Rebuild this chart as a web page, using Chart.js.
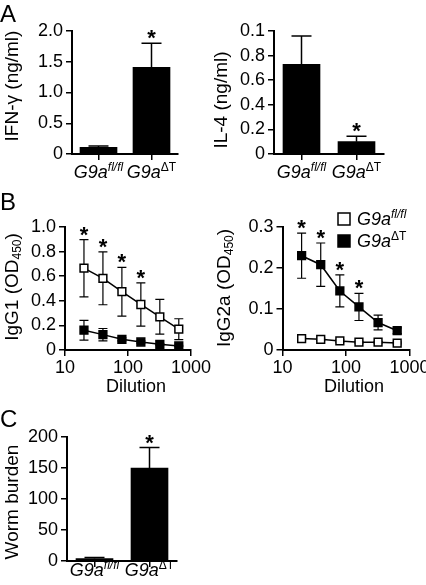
<!DOCTYPE html>
<html>
<head>
<meta charset="utf-8">
<script src="https://cdn.jsdelivr.net/npm/chart.js@4.4.0/dist/chart.umd.min.js"></script>
<style>
body { margin: 0; background: #fff; overflow: hidden; }
#wrap { position: relative; width: 426px; height: 585px; }
canvas { position: absolute; left: 0; top: 0; }
</style>
</head>
<body>
<div id="wrap">
  <canvas id="ifn" width="426" height="585"></canvas>
  <canvas id="il4" width="426" height="585"></canvas>
  <canvas id="igg1" width="426" height="585"></canvas>
  <canvas id="igg2a" width="426" height="585"></canvas>
  <canvas id="worm" width="426" height="585"></canvas>
</div>
<script>
const FONT = '"Liberation Sans", Arial, Helvetica, sans-serif';
const geno = 'G9a';
const genoSup = ['fl/fl', 'ΔT'];

// A - cytokines
const ifnMeans = [0.11, 1.41];
const ifnErr = [0.02, 0.39];
const ifnSig = [false, true];
const ifnTicks = [0, 0.5, 1, 1.5, 2];
const ifnTickLabels = ['0', '0.5', '1.0', '1.5', '2.0'];

const il4Means = [0.73, 0.10];
const il4Err = [0.23, 0.045];
const il4Sig = [false, true];
const il4Ticks = [0, 0.2, 0.4, 0.6, 0.8, 1];
const il4TickLabels = ['0', '0.2', '0.4', '0.6', '0.8', '0.1'];

// B - antibody titres
const dilutions = [20, 40, 80, 160, 320, 640];
const dilTicks = [10, 100, 1000];

const igg1Flox = [0.665, 0.583, 0.474, 0.37, 0.27, 0.169];
const igg1FloxErr = [0.233, 0.215, 0.198, 0.176, 0.141, 0.085];
const igg1Ko = [0.161, 0.125, 0.087, 0.065, 0.046, 0.033];
const igg1KoErr = [0.08, 0.05, 0.012, 0.009, 0.006, 0.004];
const igg1Sig = [true, true, true, true, false, false];
const igg1Ticks = [0, 0.2, 0.4, 0.6, 0.8, 1];
const igg1TickLabels = ['0', '0.2', '0.4', '0.6', '0.8', '1.0'];

const igg2aFlox = [0.028, 0.026, 0.022, 0.019, 0.019, 0.017];
const igg2aFloxErr = [0.004, 0.003, 0.003, 0.002, 0.002, 0.002];
const igg2aKo = [0.23, 0.208, 0.144, 0.105, 0.067, 0.047];
const igg2aKoErr = [0.055, 0.053, 0.039, 0.033, 0.018, 0.007];
const igg2aSig = [true, true, true, true, false, false];
const igg2aTicks = [0, 0.1, 0.2, 0.3];
const igg2aTickLabels = ['0', '0.1', '0.2', '0.3'];

// C - worms
const wormMeans = [4, 150];
const wormErr = [1.5, 33];
const wormSig = [false, true];
const wormTicks = [0, 50, 100, 150, 200];
const wormTickLabels = ['0', '50', '100', '150', '200'];

function drawRich(ctx, x, y, parts, align) {
  let w = 0;
  parts.forEach(p => { ctx.font = p.font; p.w = ctx.measureText(p.text).width; w += p.w; });
  let cx = align === 'left' ? x : x - w / 2;
  ctx.textAlign = 'left';
  parts.forEach(p => { ctx.font = p.font; ctx.fillText(p.text, cx, y + (p.dy || 0)); cx += p.w; });
}

function genoParts(sup) {
  return [
    { text: geno, font: 'italic 18px ' + FONT },
    { text: sup, font: (sup === 'fl/fl' ? 'italic ' : '') + '12px ' + FONT, dy: -7 }
  ];
}

function drawErr(chart, o) {
  const ctx = chart.ctx, y = chart.scales.y;
  ctx.save();
  ctx.strokeStyle = '#000';
  ctx.lineWidth = o.width;
  chart.data.datasets.forEach((ds, di) => {
    const meta = chart.getDatasetMeta(di);
    ds.means.forEach((v, i) => {
      const px = meta.data[i].x;
      const top = y.getPixelForValue(v + ds.errors[i]);
      const bot = y.getPixelForValue(o.both ? v - ds.errors[i] : v);
      ctx.beginPath();
      ctx.moveTo(px, bot); ctx.lineTo(px, top);
      ctx.moveTo(px - o.cap / 2, top); ctx.lineTo(px + o.cap / 2, top);
      if (o.both) { ctx.moveTo(px - o.cap / 2, bot); ctx.lineTo(px + o.cap / 2, bot); }
      ctx.stroke();
    });
  });
  ctx.restore();
}

function drawStars(chart, o) {
  const ctx = chart.ctx, y = chart.scales.y;
  ctx.save();
  ctx.fillStyle = '#000';
  ctx.font = 'bold 22px ' + FONT;
  ctx.textAlign = 'center';
  ctx.textBaseline = 'alphabetic';
  o.sig.forEach((s, i) => {
    if (!s) return;
    let top = Infinity;
    chart.data.datasets.forEach(ds => {
      top = Math.min(top, y.getPixelForValue(ds.means[i] + ds.errors[i]));
    });
    const px = chart.getDatasetMeta(0).data[i].x;
    ctx.fillText('*', px, top + 2);
  });
  ctx.restore();
}

const errorBars = {
  id: 'errorBars',
  beforeDatasetsDraw(chart, args, o) { if (o.under) drawErr(chart, o); },
  afterDatasetsDraw(chart, args, o) { if (!o.under) drawErr(chart, o); drawStars(chart, o); }
};

const decor = {
  id: 'decor',
  afterDraw(chart, args, o) {
    const ctx = chart.ctx;
    ctx.save();
    ctx.fillStyle = '#000';
    ctx.textBaseline = 'alphabetic';
    if (o.letter) {
      ctx.font = '24px ' + FONT;
      ctx.textAlign = 'left';
      ctx.fillText(o.letter[0], o.letter[1], o.letter[2]);
    }
    if (o.yTitle) {
      ctx.save();
      ctx.translate(o.yTitle.x, o.yTitle.y);
      ctx.rotate(-Math.PI / 2);
      ctx.textBaseline = 'middle';
      drawRich(ctx, 0, 0, o.yTitle.parts, 'center');
      ctx.restore();
    }
    if (o.catY) {
      const xs = chart.scales.x;
      genoSup.forEach((s, i) => drawRich(ctx, xs.getPixelForTick(i), o.catY, genoParts(s), 'center'));
    }
    if (o.xTitle) {
      ctx.font = '18px ' + FONT;
      ctx.textAlign = 'center';
      ctx.textBaseline = 'middle';
      ctx.fillText(o.xTitle.text, o.xTitle.x, o.xTitle.y);
      ctx.textBaseline = 'alphabetic';
    }
    if (o.legend) {
      const lg = o.legend;
      ctx.lineWidth = 1.5;
      ctx.strokeStyle = '#000';
      ctx.fillStyle = '#fff';
      ctx.fillRect(lg.x, lg.y, 12, 12);
      ctx.strokeRect(lg.x, lg.y, 12, 12);
      ctx.fillStyle = '#000';
      ctx.fillRect(lg.x - 0.75, lg.y + 22 - 0.75, 13.5, 13.5);
      drawRich(ctx, lg.x + 19, lg.y + 12, genoParts(genoSup[0]), 'left');
      drawRich(ctx, lg.x + 19, lg.y + 34, genoParts(genoSup[1]), 'left');
    }
    ctx.restore();
  }
};

function pad(L, T, R, B, yW, xH) {
  return { left: L - yW, top: T, right: 426 - R, bottom: 585 - B - xH };
}

function yAxis(ticks, labels, min, max) {
  return {
    min: min, max: max,
    afterBuildTicks: s => { s.ticks = ticks.map(v => ({ value: v })); },
    ticks: { color: '#000', font: { size: 18, family: FONT }, padding: 3, callback: (v, i) => labels[i] },
    grid: { drawOnChartArea: false, drawTicks: true, tickLength: 6, color: '#000', lineWidth: 1.5 },
    border: { color: '#000', width: 2 },
    afterFit: s => { s.width = 40; s.paddingTop = 0; s.paddingBottom = 0; }
  };
}

const catAxis = {
  ticks: { display: false },
  grid: { drawOnChartArea: false, drawTicks: true, tickLength: 6, color: '#000', lineWidth: 1.5, offset: false },
  border: { color: '#000', width: 2 },
  afterFit: s => { s.height = 8; s.paddingLeft = 0; s.paddingRight = 0; }
};

const logAxis = {
  type: 'logarithmic',
  min: 10, max: 1000,
  afterBuildTicks: s => { s.ticks = dilTicks.map(v => ({ value: v })); },
  ticks: { color: '#000', font: { size: 18, family: FONT }, padding: 1, autoSkip: false, maxRotation: 0,
           callback: v => String(v) },
  grid: { drawOnChartArea: false, drawTicks: true, tickLength: 6, color: '#000', lineWidth: 1.5 },
  border: { color: '#000', width: 2 },
  afterFit: s => { s.height = 28; s.paddingLeft = 0; s.paddingRight = 0; }
};

function barChart(id, means, errs, sig, ticks, labels, max, area, deco) {
  return new Chart(document.getElementById(id), {
    type: 'bar',
    data: {
      labels: genoSup,
      datasets: [{ data: means, means: means, errors: errs, backgroundColor: '#000', barThickness: 37 }]
    },
    options: {
      responsive: false, animation: false, events: [],
      layout: { padding: area },
      plugins: { legend: { display: false }, tooltip: { enabled: false },
                 errorBars: { under: false, both: false, cap: 20, width: 1.5, sig: sig },
                 decor: deco },
      scales: { x: catAxis, y: yAxis(ticks, labels, 0, max) }
    },
    plugins: [errorBars, decor]
  });
}

function lineSet(vals, errs, fill) {
  return {
    data: dilutions.map((d, i) => ({ x: d, y: vals[i] })),
    means: vals, errors: errs,
    borderColor: '#000', borderWidth: 1.5, tension: 0,
    pointStyle: 'rect', pointRadius: 5.5, pointBorderWidth: 1.5,
    pointBackgroundColor: fill, pointBorderColor: '#000'
  };
}

function lineChart(id, sets, sig, ticks, labels, max, area, deco) {
  return new Chart(document.getElementById(id), {
    type: 'line',
    data: { datasets: sets },
    options: {
      responsive: false, animation: false, events: [],
      layout: { padding: area },
      plugins: { legend: { display: false }, tooltip: { enabled: false },
                 errorBars: { under: true, both: true, cap: 9, width: 1.2, sig: sig },
                 decor: deco },
      scales: { x: logAxis, y: yAxis(ticks, labels, 0, max) }
    },
    plugins: [errorBars, decor]
  });
}

barChart('ifn', ifnMeans, ifnErr, ifnSig, ifnTicks, ifnTickLabels, 2, pad(72, 31, 178, 154, 40, 8), {
  letter: ['A', 0, 22], catY: 178,
  yTitle: { x: 13, y: 86, parts: [{ text: 'IFN-γ (ng/ml)', font: '19px ' + FONT }] }
});

barChart('il4', il4Means, il4Err, il4Sig, il4Ticks, il4TickLabels, 1, pad(274, 31, 384, 154, 40, 8), {
  catY: 178,
  yTitle: { x: 222, y: 100, parts: [{ text: 'IL-4 (ng/ml)', font: '19px ' + FONT }] }
});

lineChart('igg1', [lineSet(igg1Flox, igg1FloxErr, '#fff'), lineSet(igg1Ko, igg1KoErr, '#000')],
  igg1Sig, igg1Ticks, igg1TickLabels, 1, pad(65, 227, 191, 350, 40, 28), {
  letter: ['B', 0, 210],
  xTitle: { text: 'Dilution', x: 136, y: 387 },
  yTitle: { x: 13, y: 287, parts: [
    { text: 'IgG1 (OD', font: '19px ' + FONT },
    { text: '450', font: '12px ' + FONT, dy: 5 },
    { text: ')', font: '19px ' + FONT }] }
});

lineChart('igg2a', [lineSet(igg2aFlox, igg2aFloxErr, '#fff'), lineSet(igg2aKo, igg2aKoErr, '#000')],
  igg2aSig, igg2aTicks, igg2aTickLabels, 0.3, pad(282.5, 227, 409.5, 350, 40, 28), {
  xTitle: { text: 'Dilution', x: 354, y: 387 },
  legend: { x: 338, y: 213 },
  yTitle: { x: 225, y: 288, parts: [
    { text: 'IgG2a (OD', font: '19px ' + FONT },
    { text: '450', font: '12px ' + FONT, dy: 5 },
    { text: ')', font: '19px ' + FONT }] }
});

barChart('worm', wormMeans, wormErr, wormSig, wormTicks, wormTickLabels, 200, pad(67, 437, 177, 561, 40, 8), {
  letter: ['C', 0, 427], catY: 576,
  yTitle: { x: 13, y: 502, parts: [{ text: 'Worm burden', font: '19px ' + FONT }] }
});
</script>
</body>
</html>
